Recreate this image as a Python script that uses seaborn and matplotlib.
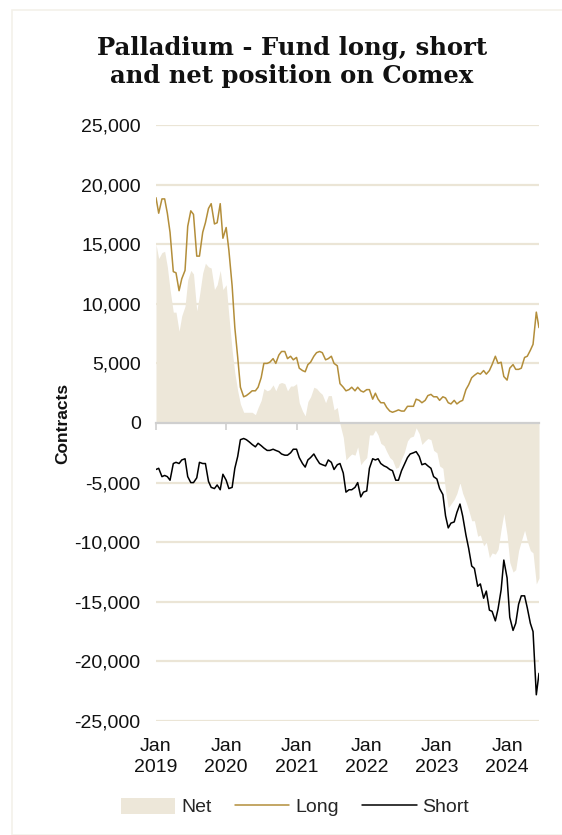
import matplotlib
matplotlib.use("Agg")
import matplotlib.pyplot as plt
import matplotlib.patches as mpatches
from matplotlib.lines import Line2D
import numpy as np
import pandas as pd
import seaborn as sns

# ---------------- data (thousands of contracts, semi-monthly) ----------------
start_date = "2019-01-01"
n_points = 132
long_k = [
    18.9, 17.6, 18.8, 18.8, 17.6, 16.0, 12.7, 12.6, 11.1, 12.1,
    12.8, 16.5, 17.8, 17.5, 14.0, 14.0, 16.0, 16.8, 18.0, 18.4,
    16.7, 16.8, 18.4, 15.5, 16.4, 14.5, 11.5, 8.0, 5.5, 3.0,
    2.2, 2.3, 2.5, 2.7, 2.7, 3.0, 3.8, 5.0, 5.0, 5.1,
    5.4, 5.0, 5.7, 6.0, 6.0, 5.4, 5.6, 5.3, 5.5, 4.6,
    4.4, 4.3, 4.9, 5.1, 5.6, 5.9, 6.0, 5.9, 5.3, 5.4,
    5.6, 5.0, 4.8, 3.3, 3.0, 2.7, 2.8, 3.0, 2.7, 3.0,
    2.7, 2.6, 2.8, 2.8, 2.0, 2.5, 2.0, 1.7, 1.7, 1.3,
    1.0, 0.9, 1.0, 1.1, 1.0, 1.0, 1.4, 1.4, 1.4, 2.0,
    1.9, 1.7, 1.9, 2.3, 2.4, 2.2, 2.2, 1.9, 2.2, 2.1,
    1.7, 1.6, 1.9, 1.6, 1.8, 1.9, 2.8, 3.2, 3.8, 4.0,
    4.2, 4.1, 4.4, 4.1, 4.4, 4.9, 5.6, 5.0, 5.1, 3.9,
    3.6, 4.6, 4.9, 4.5, 4.5, 4.6, 5.5, 5.6, 6.1, 6.6,
    9.3, 8.0,
]
short_k = [
    -3.9, -3.8, -4.5, -4.4, -4.5, -4.8, -3.4, -3.3, -3.4, -3.1,
    -3.0, -4.5, -5.0, -5.0, -4.6, -3.3, -3.4, -3.4, -4.9, -5.4,
    -5.5, -5.2, -5.6, -4.3, -4.8, -5.5, -5.4, -3.8, -2.8, -1.4,
    -1.3, -1.4, -1.6, -1.8, -2.0, -1.7, -1.9, -2.1, -2.3, -2.3,
    -2.2, -2.3, -2.4, -2.6, -2.7, -2.7, -2.5, -2.2, -2.2, -2.9,
    -3.4, -3.7, -3.1, -2.9, -2.6, -3.0, -3.4, -3.5, -3.6, -3.1,
    -3.3, -3.9, -3.5, -3.4, -4.2, -5.8, -5.6, -5.6, -5.4, -5.0,
    -6.2, -5.8, -5.7, -3.8, -3.0, -3.1, -3.0, -3.4, -3.6, -3.7,
    -3.9, -4.0, -4.8, -4.8, -4.0, -3.5, -2.9, -2.6, -2.5, -2.4,
    -2.8, -3.5, -3.4, -3.6, -3.8, -4.5, -4.7, -5.5, -6.0, -7.8,
    -8.8, -8.4, -8.3, -7.5, -6.8, -7.8, -9.4, -10.5, -12.0, -12.2,
    -13.7, -13.5, -14.7, -14.1, -15.7, -15.8, -16.6, -15.6, -14.0, -11.5,
    -13.0, -16.3, -17.4, -16.8, -15.2, -14.5, -14.5, -15.5, -16.8, -17.5,
    -22.8, -21.0,
]
y_ticks = [25000, 20000, 15000, 10000, 5000, 0, -5000, -10000, -15000, -20000, -25000]
x_tick_years = [2019, 2020, 2021, 2022, 2023, 2024]
title_text = "Palladium - Fund long, short\nand net position on Comex"
y_label = "Contracts"
legend_labels = ["Net", "Long", "Short"]

# ---------------- build frame ----------------
dates = pd.date_range(start_date, periods=n_points, freq="SMS")
df = pd.DataFrame({
    "date": dates,
    "Long": np.array(long_k) * 1000,
    "Short": np.array(short_k) * 1000,
})
df["Net"] = df["Long"] + df["Short"]

# ---------------- style ----------------
sns.set_theme(style="white")
plt.rcParams["font.family"] = ["Liberation Sans", "DejaVu Sans"]

C_LONG = "#b38e3a"
C_NET = "#ede7d9"
C_SHORT = "#000000"
C_GRID = "#ebe5d6"
C_ZERO = "#cfcfcf"

W, H = 562, 835
fig = plt.figure(figsize=(W / 100, H / 100), dpi=100)
fig.patch.set_facecolor("white")

# faint outer frame
fig.patches.append(mpatches.Rectangle((12 / W, 0.0), 1.0, 1 - 10 / H, transform=fig.transFigure,
                                      fill=False, edgecolor="#f4f1ea", linewidth=1.2))

ax_l, ax_r = 156, 539
ax_t, ax_b = 125, 721
ax = fig.add_axes([ax_l / W, 1 - ax_b / H, (ax_r - ax_l) / W, (ax_b - ax_t) / H])
ax.set_facecolor("white")

# gridlines
for v in y_ticks:
    if v != 0:
        ax.axhline(v, color=C_GRID, lw=1.6, zorder=0)

# net area
ax.fill_between(df["date"], 0, df["Net"], color=C_NET, lw=0, zorder=1)
# lines
sns.lineplot(data=df, x="date", y="Long", ax=ax, color=C_LONG, lw=1.1, zorder=3)
sns.lineplot(data=df, x="date", y="Short", ax=ax, color=C_SHORT, lw=1.1, zorder=3)

ax.set_xlim(df["date"].iloc[0], df["date"].iloc[-1])
ax.set_ylim(-25000, 25000)

# zero axis with ticks
for s in ["top", "right", "left"]:
    ax.spines[s].set_visible(False)
ax.spines["bottom"].set_position(("data", 0))
ax.spines["bottom"].set_color(C_ZERO)
ax.spines["bottom"].set_linewidth(1.6)
ax.spines["bottom"].set_zorder(2)
tick_dates = [pd.Timestamp(f"{y}-01-01") for y in x_tick_years]
ax.set_xticks(tick_dates)
ax.tick_params(axis="x", direction="out", length=5, width=1.2, color=C_ZERO,
               labelbottom=False, bottom=True)

sec = ax.secondary_xaxis("bottom")
sec.set_xticks(tick_dates)
sec.set_xticklabels([f"Jan\n{y}" for y in x_tick_years], fontsize=14, color="#111111",
                    linespacing=1.3)
sec.tick_params(length=0, pad=12)
sec.spines["bottom"].set_visible(False)

ax.set_yticks(y_ticks)
ax.set_yticklabels([f"{v:,}" for v in y_ticks], fontsize=14, color="#111111")
ax.tick_params(axis="y", length=0, pad=11)
ax.set_xlabel("")
ax.set_ylabel(y_label, fontsize=12.5, fontweight="bold", color="#111111")
ax.yaxis.set_label_coords(-0.225, 0.5)
ax.grid(False)

# title
fig.text(292 / W, 1 - 62 / H, title_text, ha="center", va="center",
         fontsize=17.5, fontweight="bold", family=["DejaVu Serif"], linespacing=1.2,
         color="#111111")

# legend
handles = [
    mpatches.Patch(facecolor=C_NET, edgecolor="none"),
    Line2D([0], [0], color=C_LONG, lw=1.1),
    Line2D([0], [0], color=C_SHORT, lw=1.1),
]
fig.legend(handles, legend_labels, loc="center", bbox_to_anchor=(295 / W, 1 - 807 / H),
           ncol=3, frameon=False, fontsize=14, handlelength=2.8, handleheight=0.9,
           handletextpad=0.3, columnspacing=1.2)

fig.savefig("out.png", dpi=100, facecolor="white")
